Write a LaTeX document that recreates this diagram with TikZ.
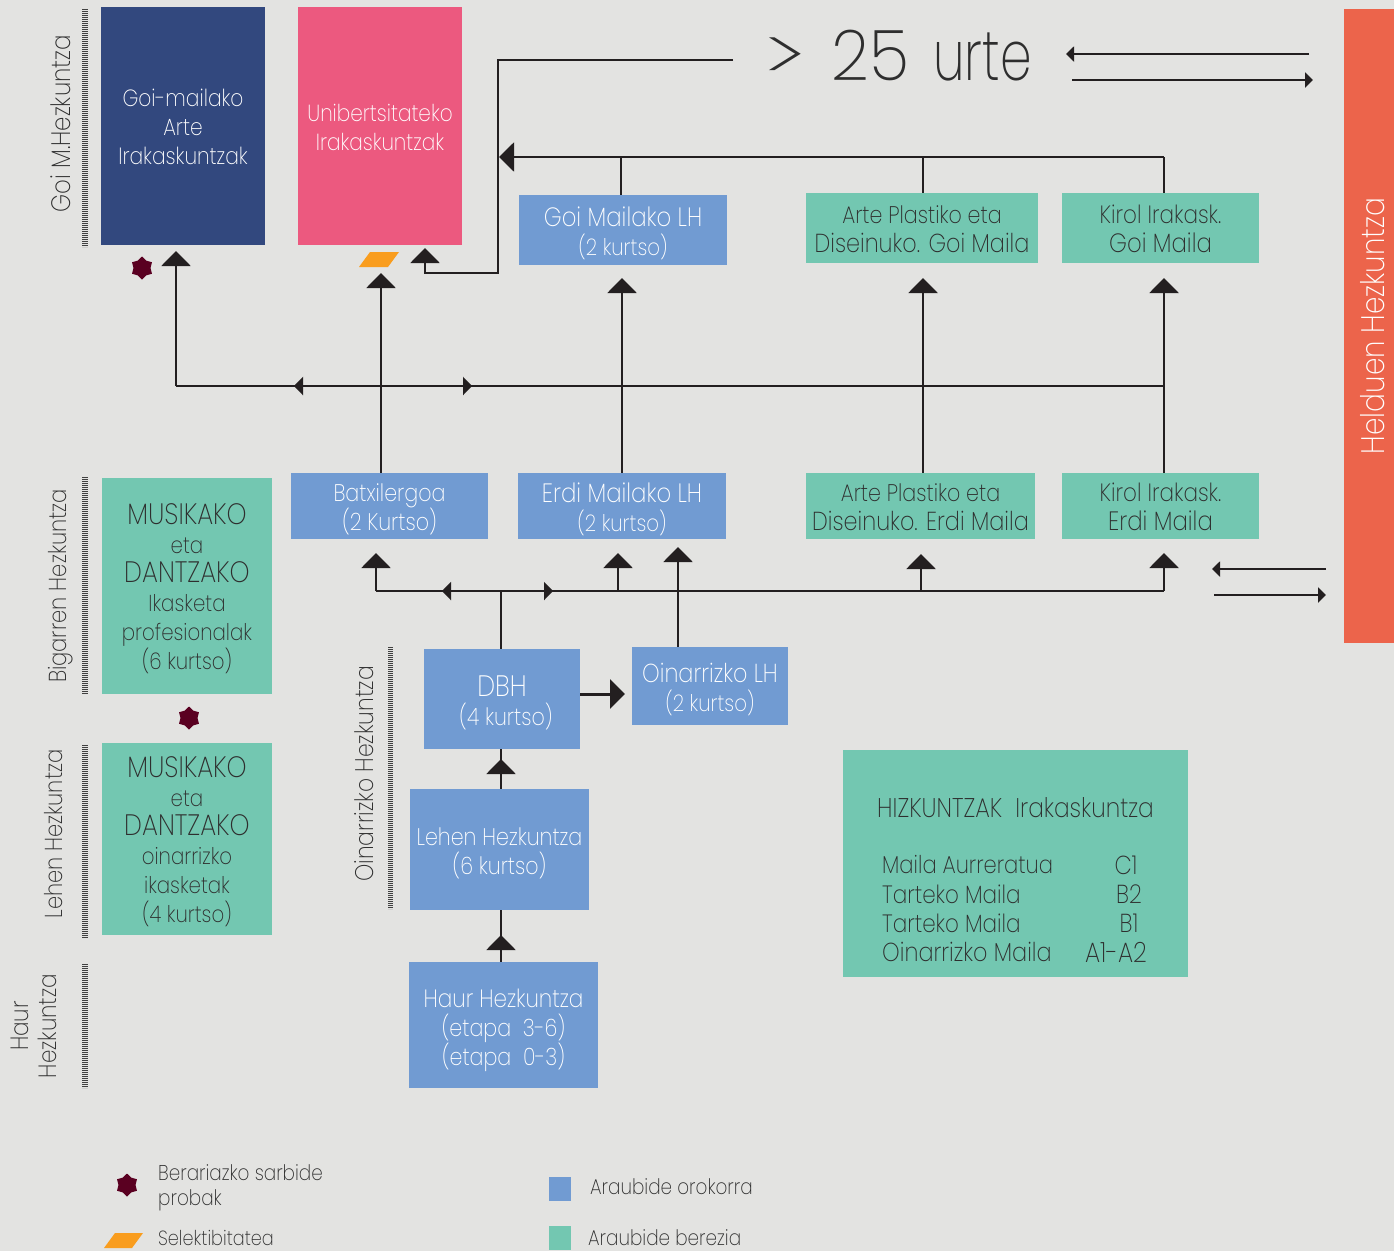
\documentclass[tikz,border=0pt]{standalone}
\usepackage{fontspec}
\setmainfont{Poppins ExtraLight}[FakeStretch=0.86]
\usetikzlibrary{arrows.meta,shapes.geometric,calc}
\definecolor{bgc}{HTML}{E3E3E1}
\definecolor{navy}{HTML}{32487E}
\definecolor{pinkc}{HTML}{EC597F}
\definecolor{bluec}{HTML}{719BD2}
\definecolor{greenc}{HTML}{73C7B1}
\definecolor{redc}{HTML}{EC644B}
\definecolor{orangec}{HTML}{F99D1E}
\definecolor{maroon}{HTML}{5A0021}
\definecolor{linec}{HTML}{231F20}
\definecolor{textc}{HTML}{2E2E2E}
\newcommand{\capz}[1]{{\fontsize{29.5}{29}\selectfont #1}}
\newcommand{\sz}[2]{{\fontsize{#1}{29}\selectfont #2}}
\tikzset{
  fs/.style={font=\fontsize{#1}{29}\selectfont},
  boxn/.style={rectangle,inner sep=0pt},
  lab/.style={inner sep=0pt,align=center,fs=24},
  wt/.style={lab,text=white,yshift=-3pt},
  dk/.style={lab,text=textc,yshift=-1pt},
  conn/.style={draw=linec,line width=2.2pt},
  bighead/.style={conn,-{Triangle[length=15pt,width=29pt]}},
  smallhead/.style={conn,-{Triangle[length=9pt,width=18pt]}},
  tinyhead/.style={conn,-{Triangle[length=8pt,width=15pt]}},
  hatch/.style={draw=black!75,line width=6pt,dash pattern=on 1.1pt off 0.9pt},
  side/.style={rotate=90,text=textc,align=center,inner sep=0pt,font=\fontsize{24.5}{28}\selectfont},
  txt/.style={text=textc,inner sep=0pt,anchor=west,fs=24.5},
  legend/.style={text=textc,inner sep=0pt,anchor=west,font=\fontsize{21.4}{25}\selectfont},
  starm/.style={star,star points=6,star point ratio=1.35,fill=maroon,inner sep=0pt,minimum size=23pt},
  parall/.style={fill=orangec},
}
\newcommand{\bx}[8]{\node[boxn,fill=#6,minimum width={(#4-#2)*1pt},minimum height={(#5-#3)*1pt}] (#1) at ({(#2+#4)/2},{(#3+#5)/2}) {};
\node[#7] (#1t) at (#1.center) {#8};}
\begin{document}
\begin{tikzpicture}[x=1pt,y=-1pt]
\fill[bgc] (0,0) rectangle (1394,1251);
\useasboundingbox (0,0) rectangle (1394,1251);
% boxes
\bx{goiarte}{101}{7}{265}{245}{navy}{lab,text=white,fs=23.5,yshift=-1pt}{Goi-mailako\\Arte\\Irakaskuntzak}
\bx{uni}{298}{7}{462}{245}{pinkc}{lab,text=white,fs=23.3,yshift=-1pt}{Unibertsitateko\\Irakaskuntzak}
\bx{goilh}{519}{195}{727}{265}{bluec}{wt,fs=26.5}{Goi Mailako LH\\\sz{23}{(2 kurtso)}}
\bx{artegoi}{806}{193}{1038}{263}{greenc}{dk,fs=26}{\sz{24}{Arte Plastiko eta}\\Diseinuko. Goi Maila}
\bx{kirolgoi}{1062}{193}{1259}{263}{greenc}{dk,fs=25}{Kirol Irakask.\\\sz{26.5}{Goi Maila}}
\bx{batx}{291}{473}{488}{539}{bluec}{wt}{Batxilergoa\\(2 Kurtso)}
\bx{erdi}{518}{473}{726}{539}{bluec}{wt,fs=26.5}{Erdi Mailako LH\\\sz{23}{(2 kurtso)}}
\bx{arteerdi}{806}{473}{1035}{539}{greenc}{dk,fs=26}{\sz{24}{Arte Plastiko eta}\\Diseinuko. Erdi Maila}
\bx{kirolerdi}{1062}{473}{1259}{539}{greenc}{dk,fs=25}{Kirol Irakask.\\\sz{26.5}{Erdi Maila}}
\bx{mus}{102}{478}{272}{694}{greenc}{dk,fs=23,yshift=-2pt}{\capz{MUSIKAKO}\\eta\\\capz{DANTZAKO}\\Ikasketa\\profesionalak\\(6 kurtso)}
\bx{musb}{102}{743}{272}{935}{greenc}{dk,fs=23,yshift=-2pt}{\capz{MUSIKAKO}\\eta\\\capz{DANTZAKO}\\oinarrizko\\ikasketak\\(4 kurtso)}
\bx{dbh}{424}{649}{580}{749}{bluec}{wt,yshift=-1pt}{\capz{DBH}\\\hspace*{8pt}(4 kurtso)}
\bx{oinlh}{632}{647}{788}{725}{bluec}{wt,fs=26}{Oinarrizko LH\\\sz{23}{(2 kurtso)}}
\bx{lehen}{410}{789}{589}{910}{bluec}{wt,yshift=-1pt}{Lehen Hezkuntza\\(6 kurtso)}
\bx{haur}{409}{962}{598}{1088}{bluec}{wt,yshift=-2pt,fs=25}{Haur Hezkuntza\\\sz{24}{(etapa\ \ 3-6)}\\\sz{24}{(etapa\ \ 0-3)}}
\bx{hizk}{843}{750}{1188}{977}{greenc}{lab}{}
\node[boxn,fill=redc,minimum width=50pt,minimum height=634pt] (helduen) at (1369,326) {};
\node[rotate=90,text=white,inner sep=0pt,font=\fontsize{32.5}{36}\selectfont] (helduent) at (1373,326) {Helduen Hezkuntza};
% hizkuntzak text
\node[txt,fs=27] (h0) at (877,808) {HIZKUNTZAK\ \ Irakaskuntza};
\node[txt] (h1) at (882,865) {Maila Aurreratua};
\node[txt,fs=25] (h2) at (882,894) {Tarteko Maila};
\node[txt,fs=25] (h3) at (882,923) {Tarteko Maila};
\node[txt,fs=26] (h4) at (882,952) {Oinarrizko Maila};
\node[txt,anchor=center,fs=26] (h1b) at (1126,865) {C1};
\node[txt,anchor=center,fs=26] (h2b) at (1129,894) {B2};
\node[txt,anchor=center,fs=26] (h3b) at (1129,923) {B1};
\node[txt,anchor=center,fs=28] (h4b) at (1116,952) {A1-A2};
% side labels and hatches
\draw[hatch] (85,9) -- (85,247);
\draw[hatch] (85,477) -- (85,694);
\draw[hatch] (85,745) -- (85,938);
\draw[hatch] (85,964) -- (85,1088);
\draw[hatch,line width=5pt] (390.5,647) -- (390.5,909);
\node[side,font=\fontsize{26.7}{28}\selectfont] (s1) at (61,124) {Goi M.Hezkuntza};
\node[side] (s2) at (61,586) {Bigarren Hezkuntza};
\node[side] (s3) at (54,834) {Lehen Hezkuntza};
\node[side,font=\fontsize{25}{28}\selectfont] (s4) at (34,1026) {Haur\\Hezkuntza};
\node[side,font=\fontsize{25.5}{28}\selectfont] (s5) at (364,774) {Oinarrizko Hezkuntza};
% >25 urte
\node[inner sep=0pt,text=textc,anchor=west,font=\fontsize{70}{80}\selectfont] (urte) at (763,56) {\scalebox{1.65}[1]{>}\hspace{25pt}\scalebox{1.1}[1]{25}\hspace{24pt}\scalebox{0.84}[1]{urte}};
% markers
\node[starm] (star1) at (142,268) {};
\node[starm] (star2) at (189,718) {};
\node[starm] (star3) at (127,1185) {};
\fill[parall] (370,252) -- (399,252) -- (388,267) -- (359,267) -- cycle;
% upper bus
\coordinate (b1) at (176,386);
\coordinate (b2) at (1164,386);
\coordinate (t1) at (176,251);
\coordinate (t2) at (381,273);
\coordinate (t3) at (622,278);
\coordinate (t4) at (923,278);
\coordinate (t5) at (1164,278);
\draw[conn] (b2) -- (b1);
\draw[bighead] (b1) -- (t1);
\draw[bighead] (batx.north -| t2) -- (t2);
\draw[bighead] (erdi.north -| t3) -- (t3);
\draw[bighead] (arteerdi.north -| t4) -- (t4);
\draw[bighead] (kirolerdi.north -| t5) -- (t5);
\coordinate (ml) at (294,386);
\coordinate (mr) at (472,386);
\draw[smallhead] (b1 -| t2) -- (ml);
\draw[smallhead] (b1 -| t2) -- (mr);
% top bus
\coordinate (c1) at (499,157);
\coordinate (c2) at (1164,157);
\draw[bighead] (c2) -- (c1);
\draw[conn] (kirolgoi.north -| c2) -- (c2);
\draw[conn] (artegoi.north -| t4) -- (t4 |- c1);
\coordinate (c3) at (621,157);
\draw[conn] (goilh.north -| c3) -- (c3);
% >25 line to university
\coordinate (u1) at (733,60);
\coordinate (u2) at (498,60);
\coordinate (u3) at (498,273);
\coordinate (u4) at (425,273);
\coordinate (u5) at (425,248);
\draw[bighead] (u1) -- (u2) -- (u3) -- (u4) -- (u5);
% lower bus
\coordinate (d1) at (376,591);
\coordinate (d2) at (1164,591);
\coordinate (e1) at (376,553);
\coordinate (e2) at (618,553);
\coordinate (e3) at (678,547);
\coordinate (e4) at (921,554);
\coordinate (e5) at (1164,553);
\coordinate (dj) at (501,591);
\draw[conn] (d1) -- (d2);
\draw[bighead] (d1) -- (e1);
\draw[bighead] (d1 -| e2) -- (e2);
\draw[bighead] (oinlh.north -| e3) -- (e3);
\draw[bighead] (d1 -| e4) -- (e4);
\draw[bighead] (d2) -- (e5);
\draw[conn] (dbh.north -| dj) -- (dj);
\coordinate (nl) at (442,591);
\coordinate (nr) at (553,591);
\draw[smallhead] (dj) -- (nl);
\draw[smallhead] (dj) -- (nr);
% education path
\coordinate (f1) at (625,694);
\draw[bighead,line width=3pt] (dbh.east |- f1) -- (f1);
\coordinate (g1) at (501,759);
\draw[conn] (lehen.north -| g1) -- (dbh.south -| g1);
\draw[bighead] (lehen.north -| g1) -- (g1);
\coordinate (g2) at (501,935);
\draw[conn] (haur.north -| g2) -- (lehen.south -| g2);
\draw[bighead] (haur.north -| g2) -- (g2);
% side arrows
\coordinate (p1) at (1309,54); \coordinate (p2) at (1066,54);
\coordinate (p3) at (1072,80); \coordinate (p4) at (1313,80);
\coordinate (p5) at (1326,569); \coordinate (p6) at (1212,569);
\coordinate (p7) at (1214,595); \coordinate (p8) at (1326,595);
\draw[tinyhead] (p1) -- (p2);
\draw[tinyhead] (p3) -- (p4);
\draw[tinyhead] (p5) -- (p6);
\draw[tinyhead] (p7) -- (p8);
% legend
\fill[parall] (115,1233) -- (143,1233) -- (132,1248) -- (104,1248) -- cycle;
\node[legend,align=left] (l1) at (158,1188) {Berariazko sarbide\\probak};
\node[legend,font=\fontsize{20.5}{25}\selectfont] (l2) at (158,1238) {Selektibitatea};
\node[boxn,fill=bluec,minimum width=22pt,minimum height=24pt] (lb) at (560,1189) {};
\node[boxn,fill=greenc,minimum width=22pt,minimum height=24pt] (lg) at (560,1238) {};
\node[legend] (l3) at (590,1187) {Araubide orokorra};
\node[legend] (l4) at (588,1238) {Araubide berezia};
\end{tikzpicture}
\end{document}
